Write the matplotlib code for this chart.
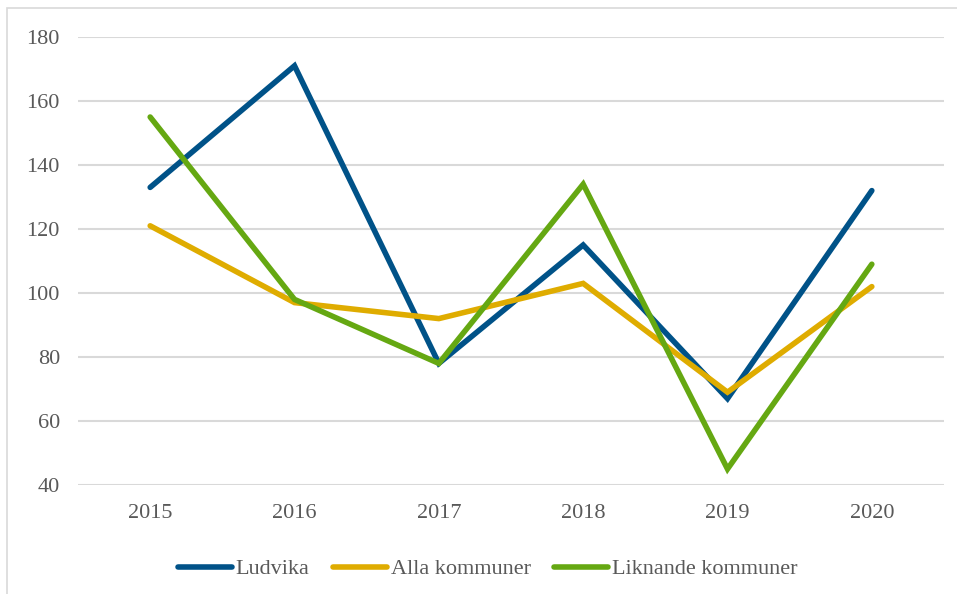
import numpy as np
import matplotlib
matplotlib.use("Agg")
import matplotlib.pyplot as plt
from matplotlib.patches import Rectangle

plt.rcParams['font.family'] = ['Liberation Serif', 'DejaVu Serif']

years = ['2015', '2016', '2017', '2018', '2019', '2020']
ludvika = [133, 171, 78, 115, 67, 132]
alla = [121, 97, 92, 103, 69, 102]
liknande = [155, 98, 78, 134, 45, 109]

yticks = [40, 60, 80, 100, 120, 140, 160, 180]
text_col = '#595959'
grid_col = '#d9d9d9'

fig = plt.figure(figsize=(9.57, 5.94), dpi=100)
# outer chart frame
fig.patches.append(Rectangle((7 / 957, -0.1), 1.0, 1 - 8 / 594 + 0.1,
                             transform=fig.transFigure, fill=False,
                             edgecolor=grid_col, lw=1.2))

ax = fig.add_axes([78 / 957, 1 - 485 / 594, (944 - 78) / 957, (485 - 37) / 594])
x = np.arange(len(years))
ax.plot(x, ludvika, color='#005288', lw=4, solid_capstyle='round', solid_joinstyle='miter', label='Ludvika', zorder=3)
ax.plot(x, alla, color='#dfac00', lw=4, solid_capstyle='round', solid_joinstyle='miter', label='Alla kommuner', zorder=3)
ax.plot(x, liknande, color='#65a812', lw=4, solid_capstyle='round', solid_joinstyle='miter', label='Liknande kommuner', zorder=3)

ax.set_xlim(-0.5, len(years) - 0.5)
ax.set_ylim(40, 180)
ax.set_yticks(yticks)
ax.set_xticks(x)
ax.set_xticklabels(years)
ax.grid(axis='y', color=grid_col, lw=1.5)
ax.set_axisbelow(True)
for s in ax.spines.values():
    s.set_visible(False)
ax.tick_params(length=0, labelsize=16, colors=text_col)
ax.tick_params(axis='x', pad=14)
ax.tick_params(axis='y', pad=13)

leg = ax.legend(loc='upper center', bbox_to_anchor=(0.473, -0.12), ncol=3, frameon=False,
                fontsize=16, handlelength=2.45, handletextpad=0.15, columnspacing=1.05)
for t in leg.get_texts():
    t.set_color(text_col)

fig.savefig('out.png', dpi=100)
